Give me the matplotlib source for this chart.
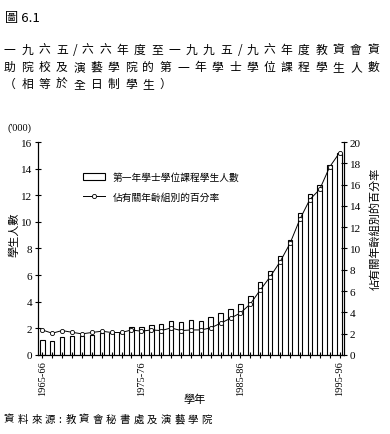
import matplotlib
matplotlib.use("Agg")
import matplotlib.pyplot as plt
import numpy as np
from matplotlib.patches import Patch
from matplotlib.lines import Line2D

plt.rcParams['font.family'] = ['Noto Sans CJK TC', 'DejaVu Sans']

## data
years = [f"{y}-{str(y + 1)[-2:]}" for y in range(1965, 1996)]
students = [1.12, 1.07, 1.32, 1.40, 1.40, 1.52, 1.65, 1.65, 1.65, 2.12,
            2.12, 2.27, 2.32, 2.57, 2.45, 2.62, 2.57, 2.82, 3.12, 3.45,
            3.82, 4.45, 5.45, 6.32, 7.45, 8.62, 10.67, 12.07, 12.75, 14.27,
            15.2]
percent = [2.34, 2.03, 2.28, 2.12, 1.97, 2.10, 2.22, 2.10, 2.10, 2.34,
           2.22, 2.34, 2.28, 2.53, 2.28, 2.34, 2.34, 2.53, 2.97, 3.44,
           3.94, 4.78, 6.10, 7.34, 8.75, 10.47, 12.75, 14.60, 15.56, 17.66,
           19.0]
label_idx = [0, 10, 20, 30]

serif = 'Liberation Serif'

fig = plt.figure(figsize=(3.9, 4.35), dpi=100)
ax = fig.add_axes([0.097, 0.182, 0.785, 0.489])
x = np.arange(len(years))
ax.bar(x, students, width=0.45, color='white', edgecolor='black', linewidth=0.8)
ax.set_xlim(-0.45, 30.45)
ax.set_ylim(0, 16)
ax.set_yticks(range(0, 17, 2))
ax.set_xticks(x)
ax.set_xticklabels([years[i] if i in label_idx else '' for i in x],
                   rotation=90, fontsize=7.5, family=serif)
for lab in ax.get_yticklabels():
    lab.set_family(serif)
    lab.set_fontsize(8)
ax.tick_params(axis='both', direction='inout', length=4, width=0.8, pad=2)
ax.spines['top'].set_visible(False)

ax2 = ax.twinx()
ax2.plot(x, percent, color='black', linewidth=0.7, marker='o', markersize=3,
         markerfacecolor='white', markeredgewidth=0.6)
ax2.set_ylim(0, 20)
ax2.set_yticks(range(0, 21, 2))
for lab in ax2.get_yticklabels():
    lab.set_family(serif)
    lab.set_fontsize(8)
ax2.tick_params(axis='y', direction='inout', length=4, width=0.8, pad=2)
ax2.spines['top'].set_visible(False)

handles = [Patch(facecolor='white', edgecolor='black', linewidth=0.8),
           Line2D([0], [0], color='black', linewidth=0.7, marker='o', markersize=3,
                  markerfacecolor='white', markeredgewidth=0.6)]
ax.legend(handles, ['第一年學士學位課程學生人數', '佔有關年齡組別的百分率'],
          loc='upper left', bbox_to_anchor=(0.12, 0.9), frameon=False,
          fontsize=7, handlelength=2.2, labelspacing=1.0)

## texts
def spaced(text, x0, y, step, size):
    # lay out characters one by one with wide tracking, half step for ascii
    xpos = x0
    for ch in text:
        fig.text(xpos / 390, y, ch, fontsize=size, va='center')
        xpos += step * (0.5 if ord(ch) < 128 else 1.0)

fig.text(0.013, 0.958, '圖 6.1', fontsize=9.5, va='center')
lines = ['一九六五/六六年度至一九九五/九六年度教資會資',
         '助院校及演藝學院的第一年學士學位課程學生人數',
         '（相等於全日制學生）']
spaced(lines[0], 4, 0.885, 17.3, 8.5)
spaced(lines[1], 4, 0.845, 17.3, 8.5)
spaced(lines[2], 4, 0.805, 17.3, 8.5)
fig.text(0.05, 0.70, "('000)", fontsize=7.5, family=serif, ha='center')
fig.text(0.035, 0.46, '學生人數', rotation=90, fontsize=8, ha='center', va='center')
fig.text(0.962, 0.475, '佔有關年齡組別的百分率', rotation=90, fontsize=8,
         ha='center', va='center')
fig.text(0.5, 0.08, '學年', fontsize=8, ha='center', va='center')
spaced('資料來源:教資會秘書處及演藝學院', 4, 0.035, 13.6, 7.5)

fig.savefig('out.png', dpi=100)
